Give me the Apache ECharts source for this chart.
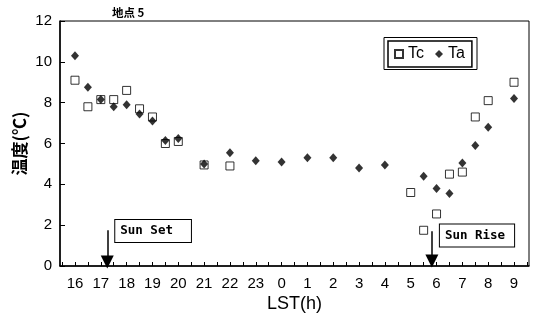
<!DOCTYPE html>
<html>
<head>
<meta charset="utf-8">
<script src="https://cdn.jsdelivr.net/npm/echarts@6/dist/echarts.min.js"></script>
<style>
  html, body { margin: 0; padding: 0; background: #fff; }
  #chart { width: 537px; height: 328px; }
</style>
</head>
<body>
<div id="chart"></div>
<script>
// 観測値 (LST, 24時以降は翌日 0時〜)
var tcHours = [16, 16.5, 17, 17.5, 18, 18.5, 19, 19.5, 20, 21, 22, 29, 29.5, 30, 30.5, 31, 31.5, 32, 33];
var tcValues = [9.1, 7.8, 8.15, 8.15, 8.6, 7.7, 7.3, 6.0, 6.1, 4.95, 4.9, 3.6, 1.75, 2.55, 4.5, 4.6, 7.3, 8.1, 9.0];
var taHours = [16, 16.5, 17, 17.5, 18, 18.5, 19, 19.5, 20, 21, 22, 23, 24, 25, 26, 27, 28, 29.5, 30, 30.5, 31, 31.5, 32, 33];
var taValues = [10.3, 8.75, 8.15, 7.8, 7.9, 7.45, 7.1, 6.15, 6.25, 5.0, 5.55, 5.15, 5.1, 5.3, 5.3, 4.8, 4.95, 4.4, 3.8, 3.55, 5.05, 5.9, 6.8, 8.2];
var sunSetHour = 17.25;
var sunRiseHour = 29.82;

var sans = "'Liberation Sans', sans-serif";
var mono = "'DejaVu Sans Mono', 'Liberation Mono', monospace";

function pairs(xs, ys) {
  return xs.map(function (x, i) { return [x, ys[i]]; });
}

var chart = echarts.init(document.getElementById('chart'));

var boxLabel = {
  show: true,
  position: 'right',
  distance: 8,
  color: '#000',
  fontFamily: mono,
  fontSize: 12.5,
  fontWeight: 'bold',
  backgroundColor: '#fff',
  borderColor: '#000',
  borderWidth: 1
};

var option = {
  animation: false,
  backgroundColor: '#fff',
  title: {
    text: '地点 5',
    left: 107,
    top: 2,
    textStyle: {
      fontFamily: 'Noto Sans CJK JP',
      fontSize: 11.5,
      fontWeight: 'bold',
      color: '#000'
    }
  },
  legend: {
    left: 388,
    top: 41,
    padding: [5, 7, 5, 6],
    itemWidth: 8,
    itemHeight: 8,
    itemGap: 11,
    borderColor: '#000',
    borderWidth: 1.5,
    textStyle: { fontFamily: sans, fontSize: 16, color: '#000' },
    data: ['Tc', 'Ta']
  },
  graphic: [
    {
      type: 'rect',
      shape: { x: 384, y: 37.5, width: 93, height: 32 },
      style: { fill: 'none', stroke: '#000', lineWidth: 1 }
    }
  ],
  grid: {
    left: 60,
    right: 8,
    top: 21,
    bottom: 62,
    outerBoundsMode: 'none',
    show: true,
    borderColor: '#000',
    borderWidth: 1
  },
  xAxis: {
    type: 'value',
    min: 15.42,
    max: 33.58,
    minInterval: 0.5,
    maxInterval: 0.5,
    name: 'LST(h)',
    nameLocation: 'middle',
    nameGap: 29,
    nameMoveOverlap: false,
    nameTextStyle: { fontFamily: sans, fontSize: 18, color: '#000' },
    axisLine: { lineStyle: { color: '#000', width: 1.5 } },
    axisTick: { inside: true, length: 4, lineStyle: { color: '#000' } },
    splitLine: { show: false },
    axisLabel: {
      margin: 10,
      fontFamily: sans,
      fontSize: 15,
      color: '#000',
      showMinLabel: false,
      showMaxLabel: false,
      formatter: function (v) {
        if (Math.abs(v - Math.round(v)) > 1e-6) return '';
        return String(Math.round(v) % 24);
      }
    }
  },
  yAxis: {
    type: 'value',
    min: 0,
    max: 12,
    interval: 2,
    name: '温度(℃)',
    nameLocation: 'middle',
    nameGap: 32,
    nameMoveOverlap: false,
    nameRotate: 90,
    nameTextStyle: { fontFamily: 'Noto Sans CJK JP', fontSize: 17, fontWeight: 'bold', color: '#000' },
    axisLine: { show: true, lineStyle: { color: '#000', width: 1.5 } },
    axisTick: { show: true, inside: true, length: 5, lineStyle: { color: '#000' } },
    splitLine: { show: false },
    axisLabel: { margin: 8, fontFamily: sans, fontSize: 15, color: '#000' }
  },
  series: [
    {
      name: 'Tc',
      type: 'scatter',
      symbol: 'rect',
      symbolSize: 8,
      itemStyle: { color: '#fff', borderColor: '#000', borderWidth: 1 },
      data: pairs(tcHours, tcValues),
      markLine: {
        silent: true,
        symbol: ['none', 'triangle'],
        symbolSize: 13,
        label: { show: false },
        lineStyle: { color: '#000', width: 1.5, type: 'solid' },
        data: [
          [{ coord: [sunSetHour, 1.75] }, { coord: [sunSetHour, 0.2] }],
          [{ coord: [sunRiseHour, 1.7] }, { coord: [sunRiseHour, 0.25] }]
        ]
      },
      markPoint: {
        silent: true,
        symbol: 'circle',
        symbolSize: 0,
        data: [
          { coord: [sunSetHour, 1.72], label: Object.assign({}, boxLabel, { formatter: 'Sun Set', padding: [5, 18, 4, 5] }) },
          { coord: [sunRiseHour, 1.5], label: Object.assign({}, boxLabel, { formatter: 'Sun Rise', padding: [5, 9, 4, 5] }) }
        ]
      }
    },
    {
      name: 'Ta',
      type: 'scatter',
      symbol: 'diamond',
      symbolSize: [8, 9],
      itemStyle: { color: '#000' },
      data: pairs(taHours, taValues)
    }
  ]
};

chart.setOption(option);
</script>
</body>
</html>
